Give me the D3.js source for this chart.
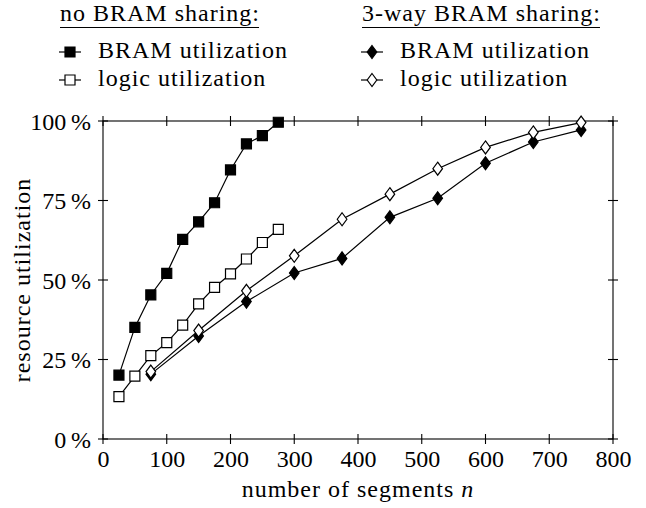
<!DOCTYPE html>
<html>
<head>
<meta charset="utf-8">
<script src="https://cdn.jsdelivr.net/npm/d3@7"></script>
<style>
  html, body { margin: 0; padding: 0; background: #fff; }
  svg { display: block; }
</style>
</head>
<body>
<svg id="chart" width="646" height="508"></svg>
<script>
// ---- data ----
const nNoShare    = [25, 50, 75, 100, 125, 150, 175, 200, 225, 250, 275];
const bramNoShare = [20.1, 35.1, 45.3, 52.1, 62.8, 68.3, 74.3, 84.6, 92.8, 95.4, 99.6];
const logicNoShare= [13.3, 19.8, 26.2, 30.3, 35.8, 42.5, 47.7, 51.9, 56.6, 61.8, 65.9];
const n3way       = [75, 150, 225, 300, 375, 450, 525, 600, 675, 750];
const bram3way    = [20.4, 32.4, 43.2, 52.2, 56.8, 69.7, 75.7, 86.7, 93.4, 97.2];
const logic3way   = [21.2, 34.1, 46.6, 57.6, 69.1, 77.0, 85.0, 91.7, 96.4, 99.5];
const xTicks = [0, 100, 200, 300, 400, 500, 600, 700, 800];
const yTicks = [0, 25, 50, 75, 100];
const xTitle = "number of segments ";
const xTitleVar = "n";
const yTitle = "resource utilization";
const legendHeaders = ["no BRAM sharing:", "3-way BRAM sharing:"];
const legendLabels = ["BRAM utilization", "logic utilization"];

// ---- layout ----
const FONT = "'Liberation Serif'";
const FS = 24;
const svg = d3.select("#chart");
const L = 103, R = 613, T = 121, B = 439;
const x = d3.scaleLinear().domain([0, 800]).range([L, R]);
const y = d3.scaleLinear().domain([0, 100]).range([B, T]);

function txt(sel, spacing) {
  return sel.style("font-family", FONT).style("font-size", FS + "px")
    .style("letter-spacing", (spacing || 0) + "px").attr("fill", "#000");
}

const series = [
  { xs: nNoShare, ys: bramNoShare, shape: "square", fill: "#000" },
  { xs: nNoShare, ys: logicNoShare, shape: "square", fill: "#fff" },
  { xs: n3way, ys: bram3way, shape: "diamond", fill: "#000" },
  { xs: n3way, ys: logic3way, shape: "diamond", fill: "#fff" }
];

function markerPath(shape) {
  if (shape === "square") return "M-5,-5H5V5H-5Z";
  return "M0,-6.5L4.8,0L0,6.5L-4.8,0Z";
}

// ---- axes box with ticks on all sides ----
const g = svg.append("g");
g.append("rect").attr("x", L).attr("y", T).attr("width", R - L).attr("height", B - T)
  .attr("fill", "none").attr("stroke", "#000").attr("stroke-width", 1.1);

const tk = 5;
const bottomAxis = d3.axisBottom(x).tickValues(xTicks).tickSize(0).tickFormat(d => d);
const ax = g.append("g").attr("transform", `translate(0,${B})`).call(bottomAxis);
ax.attr("font-family", null).attr("font-size", null);
ax.select(".domain").remove();
txt(ax.selectAll("text").attr("dy", null).attr("y", 28));

const leftAxis = d3.axisLeft(y).tickValues(yTicks).tickSize(0).tickFormat(d => d + "\u2009%");
const ay = g.append("g").attr("transform", `translate(${L},0)`).call(leftAxis);
ay.attr("font-family", null).attr("font-size", null);
ay.select(".domain").remove();
txt(ay.selectAll("text").attr("x", -12).attr("dy", "0.34em"));

xTicks.forEach(v => {
  [B, T].forEach(yy => {
    g.append("line").attr("x1", x(v)).attr("x2", x(v)).attr("y1", yy - tk).attr("y2", yy + tk)
      .attr("stroke", "#000").attr("stroke-width", 1.1);
  });
});
yTicks.forEach(v => {
  [L, R].forEach(xx => {
    g.append("line").attr("x1", xx - tk).attr("x2", xx + tk).attr("y1", y(v)).attr("y2", y(v))
      .attr("stroke", "#000").attr("stroke-width", 1.1);
  });
});

// ---- axis titles ----
const xt = txt(svg.append("text").attr("x", (L + R) / 2).attr("y", 497).attr("text-anchor", "middle"), 1);
xt.append("tspan").text(xTitle);
xt.append("tspan").style("font-style", "italic").text(xTitleVar);

txt(svg.append("text").attr("transform", `translate(30,${(T + B) / 2}) rotate(-90)`)
  .attr("text-anchor", "middle").text(yTitle), 1);

// ---- series ----
const line = d3.line().x(d => x(d[0])).y(d => y(d[1]));
series.forEach(s => {
  const pts = s.xs.map((v, i) => [v, s.ys[i]]);
  svg.append("path").datum(pts).attr("d", line).attr("fill", "none")
    .attr("stroke", "#000").attr("stroke-width", 1.2);
  svg.append("g").selectAll("path").data(pts).join("path")
    .attr("transform", d => `translate(${x(d[0])},${y(d[1])})`)
    .attr("d", markerPath(s.shape))
    .attr("fill", s.fill).attr("stroke", "#000").attr("stroke-width", 1.2);
});

// ---- legend ----
const legX = [60, 362];
const lg = svg.append("g");
legendHeaders.forEach((h, c) => {
  const t = txt(lg.append("text").attr("x", legX[c]).attr("y", 21).text(h), 1);
  const w = t.node().getComputedTextLength();
  lg.append("line").attr("x1", legX[c]).attr("x2", legX[c] + w - 1).attr("y1", 27.5).attr("y2", 27.5)
    .attr("stroke", "#000").attr("stroke-width", 1);
  legendLabels.forEach((lab, r) => {
    const s = series[c * 2 + r];
    const cy = 52 + r * 28;
    const mx = legX[c] + 10;
    lg.append("line").attr("x1", mx - 11).attr("x2", mx + 11).attr("y1", cy).attr("y2", cy)
      .attr("stroke", "#000").attr("stroke-width", 1.2);
    lg.append("path").attr("transform", `translate(${mx},${cy})`).attr("d", markerPath(s.shape))
      .attr("fill", s.fill).attr("stroke", "#000").attr("stroke-width", 1.2);
    txt(lg.append("text").attr("x", legX[c] + 38).attr("y", cy + 6).text(lab), 1);
  });
});
</script>
</body>
</html>
